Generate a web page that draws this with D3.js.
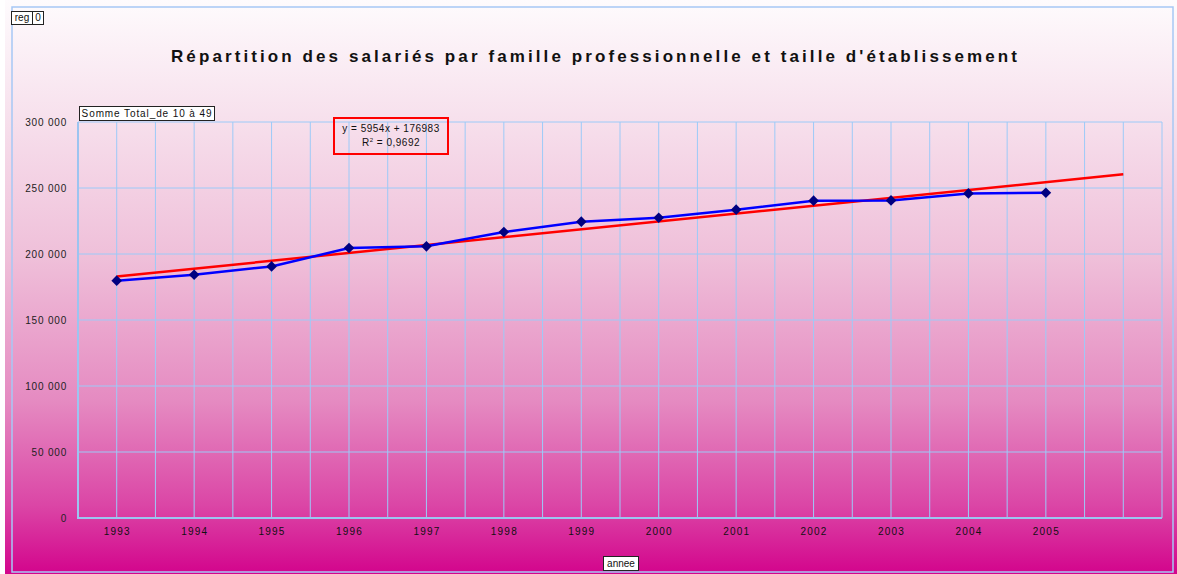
<!DOCTYPE html>
<html>
<head>
<meta charset="utf-8">
<script src="https://cdn.jsdelivr.net/npm/d3@7"></script>
<style>
  body { margin: 0; background: #ffffff; }
  svg { display: block; font-family: Arial, "Liberation Sans", sans-serif; }
</style>
</head>
<body>
<svg id="chart"></svg>
<script>
// categories on the x axis (one extra empty slot for the trend forecast)
let years = ['1993','1994','1995','1996','1997','1998','1999','2000','2001','2002','2003','2004','2005'];
// Somme Total_de 10 à 49
let totals = [179800, 184300, 190600, 204500, 205800, 216700, 224500, 227500, 233600, 240400, 240600, 245900, 246400];
let yTicks = [0, 50000, 100000, 150000, 200000, 250000, 300000];
// linear trend shown on the chart
let trendSlope = 5954;
let trendIntercept = 176983;
let trendR2 = '0,9692';
let forecast = 1;

let W = 1177, H = 574;
let plot = {left: 78, right: 1162, top: 122, bottom: 518};

let svg = d3.select('#chart').attr('width', W).attr('height', H);

// background gradient
let defs = svg.append('defs');
let grad = defs.append('linearGradient').attr('id', 'bg')
  .attr('x1', 0).attr('y1', 0).attr('x2', 0).attr('y2', 1);
[[0, '#fefbfd'], [0.2, '#f7e1ed'], [0.45, '#efbfd9'], [0.7, '#e58ac1'], [0.88, '#db46a6'], [1, '#d3048c']]
  .forEach((s) => {
    grad.append('stop').attr('offset', s[0]).attr('stop-color', s[1]);
  });

svg.append('rect')
  .attr('x', 5).attr('y', 0)
  .attr('width', W - 5).attr('height', H)
  .attr('fill', 'url(#bg)');

// outer frame
svg.append('rect')
  .attr('x', 12).attr('y', 7)
  .attr('width', 1161).attr('height', 565)
  .attr('fill', 'none')
  .attr('stroke', '#a6c8f5')
  .attr('stroke-width', 1.5);

let n = years.length + forecast;
let xScale = d3.scaleLinear().domain([0.5, n + 0.5]).range([plot.left, plot.right]);
let yScale = d3.scaleLinear().domain([0, 300000]).range([plot.bottom, plot.top]);

let g = svg.append('g');

// vertical gridlines at category centres and boundaries
let vLines = d3.range(1, 2 * n + 2).map((i) => i / 2);
g.selectAll('.vgrid')
  .data(vLines)
  .enter().append('line')
  .attr('x1', (d) => xScale(d)).attr('x2', (d) => xScale(d))
  .attr('y1', plot.top).attr('y2', plot.bottom)
  .attr('stroke', '#9ccaf8')
  .attr('stroke-width', 1);

// horizontal gridlines
g.selectAll('.hgrid')
  .data(yTicks)
  .enter().append('line')
  .attr('x1', plot.left).attr('x2', plot.right)
  .attr('y1', (d) => yScale(d)).attr('y2', (d) => yScale(d))
  .attr('stroke', '#9ccaf8')
  .attr('stroke-width', 1);

// axis lines
g.append('line')
  .attr('x1', plot.left).attr('x2', plot.left)
  .attr('y1', plot.top).attr('y2', plot.bottom + 1)
  .attr('stroke', '#9cc4f0').attr('stroke-width', 2);
g.append('line')
  .attr('x1', plot.left).attr('x2', plot.right)
  .attr('y1', plot.bottom).attr('y2', plot.bottom)
  .attr('stroke', '#9cc4f0').attr('stroke-width', 2);

// y axis labels
let fr = d3.formatLocale({decimal: ',', thousands: ' ', grouping: [3], currency: ['', ' €']});
let yAxis = d3.axisLeft(yScale).tickValues(yTicks).tickSize(0).tickPadding(11).tickFormat(fr.format(','));
let ya = svg.append('g').attr('transform', `translate(${plot.left},0)`).call(yAxis);
ya.select('.domain').remove();
ya.selectAll('text')
  .attr('font-size', 10).attr('letter-spacing', 0.8).attr('fill', '#222')
  .attr('font-family', 'Arial, "Liberation Sans", sans-serif');

// x axis labels
let xAxis = d3.axisBottom(xScale)
  .tickValues(d3.range(1, years.length + 1))
  .tickSize(0).tickPadding(10)
  .tickFormat((d) => years[d - 1]);
let xa = svg.append('g').attr('transform', `translate(0,${plot.bottom})`).call(xAxis);
xa.select('.domain').remove();
xa.selectAll('text')
  .attr('font-size', 10).attr('letter-spacing', 1.2).attr('fill', '#111')
  .attr('font-family', 'Arial, "Liberation Sans", sans-serif');

// trend line
let trendPts = d3.range(1, n + 1).map((i) => ({i: i, v: trendSlope * i + trendIntercept}));
let line = d3.line().x((d) => xScale(d.i)).y((d) => yScale(d.v));
g.append('path')
  .datum([trendPts[0], trendPts[trendPts.length - 1]])
  .attr('d', line)
  .attr('fill', 'none')
  .attr('stroke', '#ff0000')
  .attr('stroke-width', 2.5);

// data series
let pts = totals.map((v, k) => ({i: k + 1, v: v}));
g.append('path')
  .datum(pts)
  .attr('d', line)
  .attr('fill', 'none')
  .attr('stroke', '#0000ff')
  .attr('stroke-width', 2.5);

g.selectAll('.marker')
  .data(pts)
  .enter().append('path')
  .attr('d', d3.symbol().type(d3.symbolDiamond2).size(72))
  .attr('transform', (d) => `translate(${xScale(d.i)},${yScale(d.v)})`)
  .attr('fill', '#000080');

// title
svg.append('text')
  .attr('x', 594).attr('y', 62)
  .attr('text-anchor', 'middle')
  .attr('font-size', 17).attr('font-weight', 'bold')
  .attr('textLength', 846).attr('lengthAdjust', 'spacing')
  .attr('fill', '#111')
  .text("Répartition des salariés par famille professionnelle et taille d'établissement");

// small labelled boxes
function labelBox(x, y, w, h, txt, spacing) {
  svg.append('rect')
    .attr('x', x).attr('y', y).attr('width', w).attr('height', h)
    .attr('fill', '#ffffff').attr('stroke', '#222').attr('stroke-width', 1);
  svg.append('text')
    .attr('x', x + w / 2).attr('y', y + h - 3.5)
    .attr('text-anchor', 'middle')
    .attr('font-size', 10).attr('letter-spacing', spacing).attr('fill', '#111')
    .text(txt);
}
labelBox(11.5, 11.5, 21, 13, 'reg', 0);
labelBox(32.5, 11.5, 11, 13, '0', 0);
labelBox(79.5, 106.5, 135, 14, 'Somme Total_de 10 à 49', 0.9);
labelBox(603.5, 556.5, 35, 14, 'annee', 0);

// trend equation box
svg.append('rect')
  .attr('x', 334).attr('y', 118)
  .attr('width', 114).attr('height', 36)
  .attr('fill', 'none')
  .attr('stroke', '#ff0000').attr('stroke-width', 2);
svg.append('text')
  .attr('x', 391).attr('y', 131.5)
  .attr('text-anchor', 'middle')
  .attr('font-size', 10).attr('letter-spacing', 0.5).attr('fill', '#111')
  .text(`y = ${trendSlope}x + ${trendIntercept}`);
let r2 = svg.append('text')
  .attr('x', 391).attr('y', 145.5)
  .attr('text-anchor', 'middle')
  .attr('font-size', 10).attr('letter-spacing', 0.5).attr('fill', '#111');
r2.append('tspan').text('R');
r2.append('tspan').attr('font-size', 6).attr('dy', -4).text('2');
r2.append('tspan').attr('dy', 4).text(` = ${trendR2}`);
</script>
</body>
</html>
